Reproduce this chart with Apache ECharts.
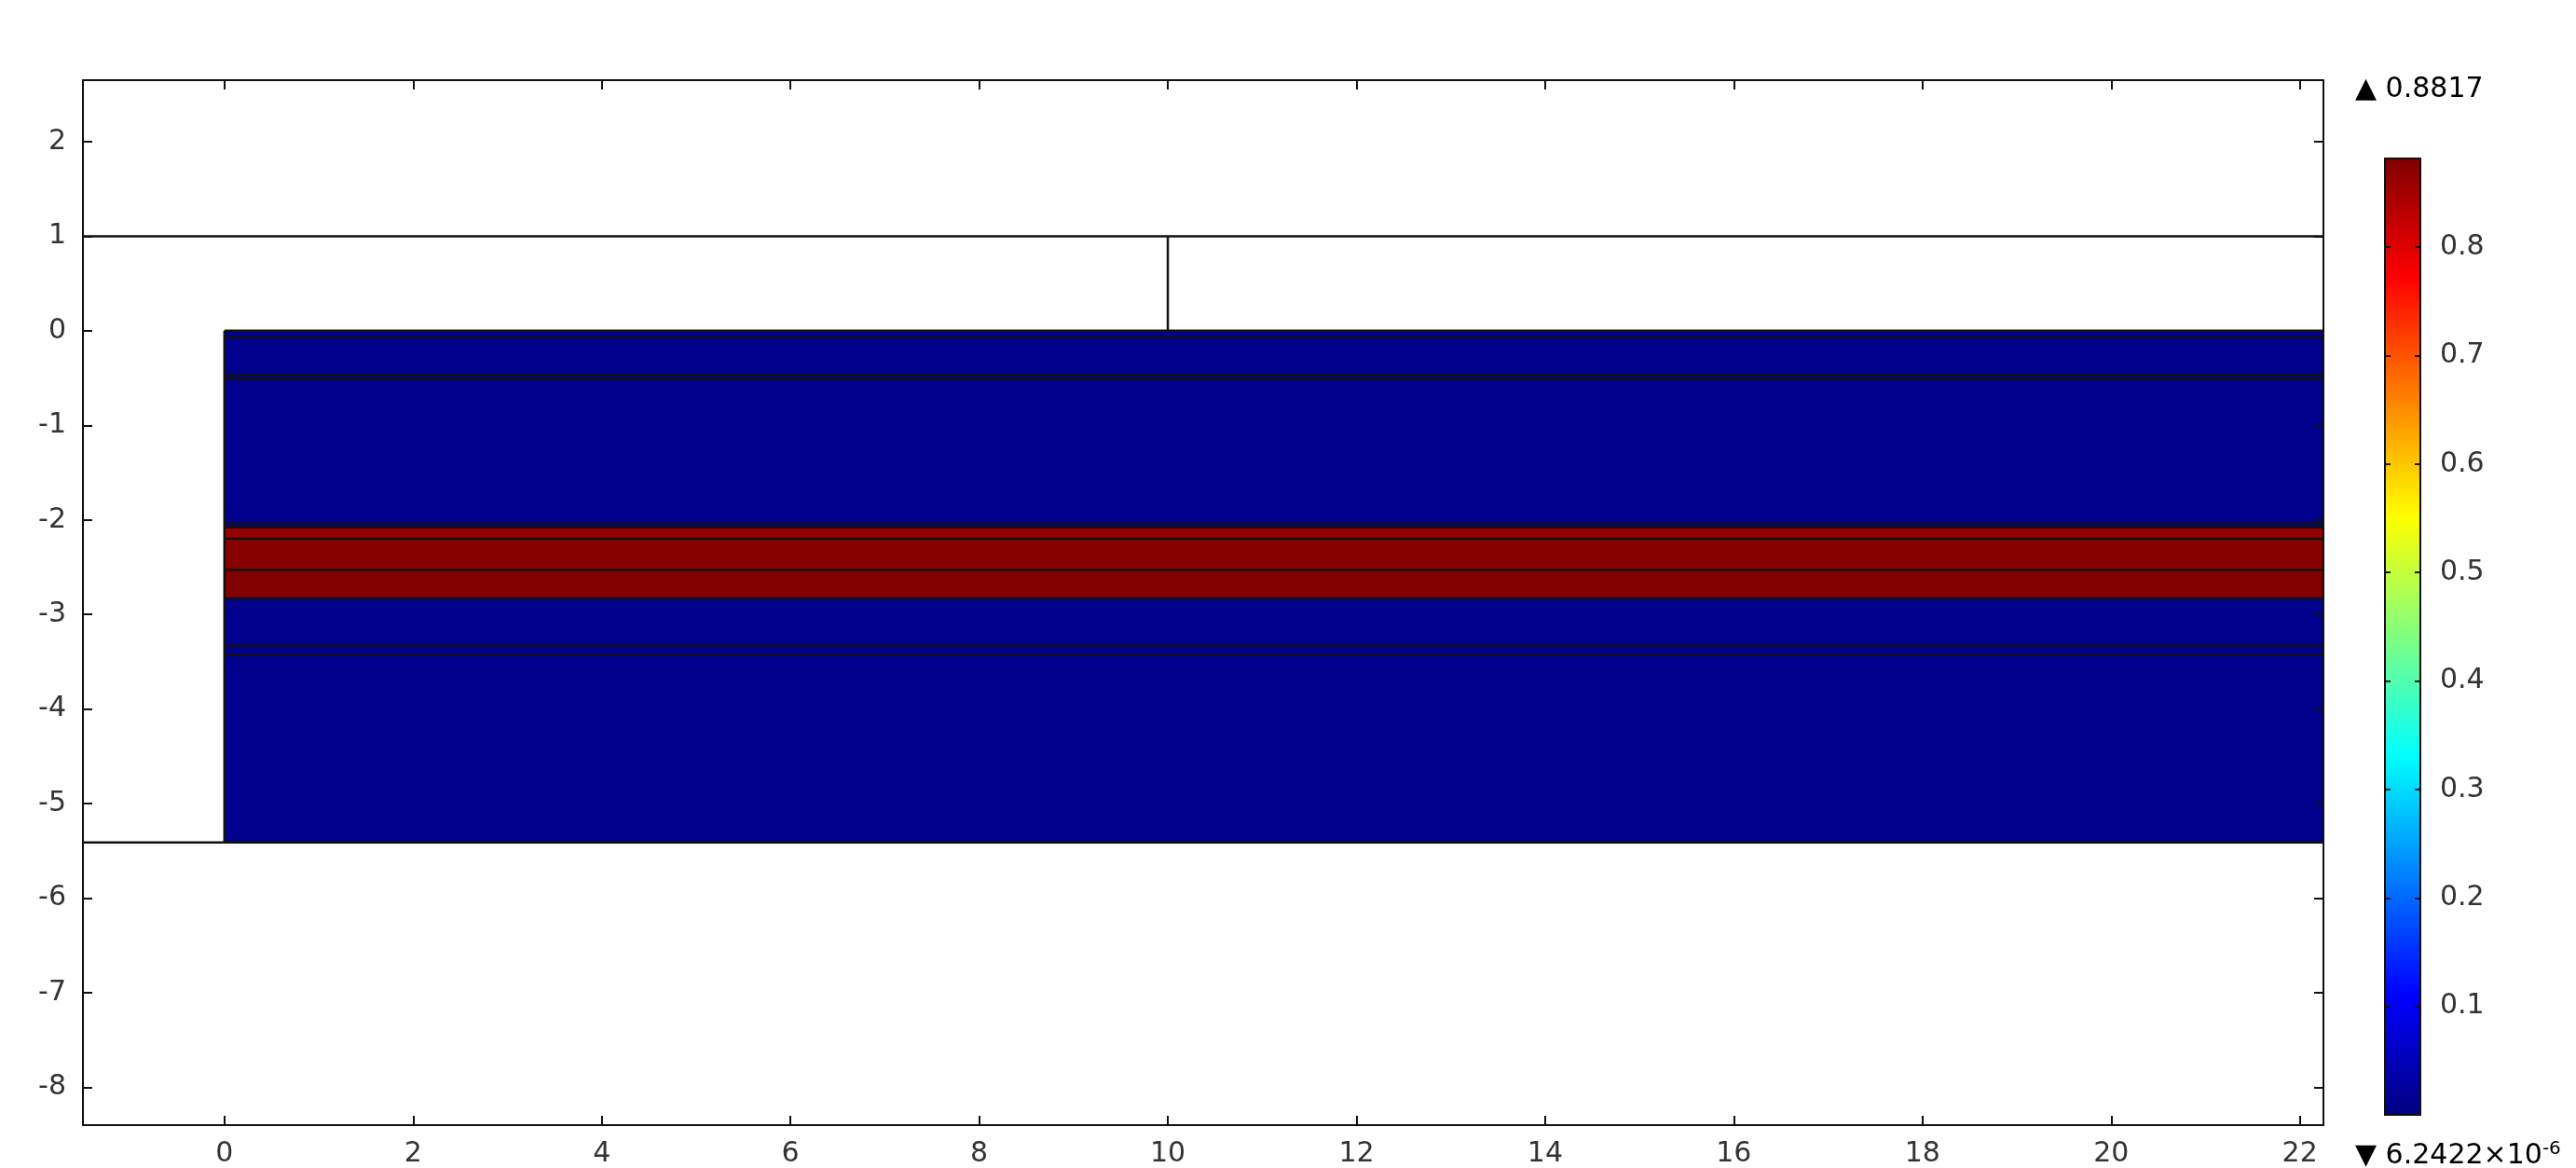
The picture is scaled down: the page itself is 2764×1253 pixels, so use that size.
<!DOCTYPE html>
<html>
<head>
<meta charset="utf-8">
<script src="https://cdn.jsdelivr.net/npm/echarts@6/dist/echarts.min.js"></script>
<style>
html,body{margin:0;padding:0;background:#fff;}
#c{width:2764px;height:1253px;}
</style>
</head>
<body>
<div id="c"></div>
<script>
// ---- data ----
const xRange = [-1.5, 22.25];
const yRange = [-8.4, 2.65];
const xTicks = [0, 2, 4, 6, 8, 10, 12, 14, 16, 18, 20, 22];
const yTicks = [-8, -7, -6, -5, -4, -3, -2, -1, 0, 1, 2];
const cbRange = [6.2422e-6, 0.8817];
const cbTicks = [0.1, 0.2, 0.3, 0.4, 0.5, 0.6, 0.7, 0.8];
const domainX = [0, 22.25];
const layerTop    = [0,     -0.07, -0.47, -0.51, -2.04, -2.08, -2.20, -2.53, -2.83, -3.33, -3.43];
const layerBottom = [-0.07, -0.47, -0.51, -2.04, -2.08, -2.20, -2.53, -2.83, -3.33, -3.43, -5.41];
const layerValue  = [0.01,  0.01,  0.01,  0.01,  0.01,  0.862, 0.874, 0.881, 0.01,  0.01,  0.01];
const edgeX1 = [-1.5, 10, -1.5, 0];
const edgeY1 = [1,    0,  -5.41, 0];
const edgeX2 = [22.25, 10, 0,   0];
const edgeY2 = [1,    1,  -5.41, -5.41];
const maxLabel = '0.8817';
const minLabelBase = '6.2422×10';
const minLabelExp = '-6';

// ---- styles ----
const jet = ['#000080', '#0000ff', '#0080ff', '#00ffff', '#80ff80', '#ffff00', '#ff8000', '#ff0000', '#800000'];
const FONT = 'DejaVu Sans';
const TXT = '#333';

const layerData = layerTop.map((t, i) => [domainX[0], t, domainX[1], layerBottom[i], layerValue[i]]);
const edgeData = edgeX1.map((x, i) => [x, edgeY1[i], edgeX2[i], edgeY2[i]]);
layerTop.forEach(t => edgeData.push([domainX[0], t, domainX[1], t]));
edgeData.push([domainX[0], layerBottom[layerBottom.length - 1], domainX[1], layerBottom[layerBottom.length - 1]]);

function mkX(pos, grid, labels, min, max, ticks) {
  return {
    type: 'value', gridIndex: grid, position: pos, min: min, max: max, z: 10,
    axisLine: {show: true, onZero: false, lineStyle: {color: '#111', width: 2}},
    axisTick: ticks ? {show: true, inside: true, length: 10, lineStyle: {color: '#111', width: 2}, customValues: ticks} : {show: false},
    axisLabel: labels ? {show: true, customValues: ticks, margin: 16, fontFamily: FONT, fontSize: 30, color: TXT} : {show: false},
    splitLine: {show: false}
  };
}
function mkY(pos, grid, labels, min, max, ticks, tlen, margin, fmt) {
  return {
    type: 'value', gridIndex: grid, position: pos, min: min, max: max, z: 10,
    axisLine: {show: true, onZero: false, lineStyle: {color: '#111', width: 2}},
    axisTick: {show: true, inside: true, length: tlen, lineStyle: {color: '#111', width: 2}, customValues: ticks},
    axisLabel: labels ? {show: true, customValues: ticks, margin: margin, fontFamily: FONT, fontSize: 30, color: TXT, formatter: fmt} : {show: false},
    splitLine: {show: false}
  };
}

const chart = echarts.init(document.getElementById('c'), null, {renderer: 'canvas'});
chart.setOption({
  backgroundColor: '#fff',
  animation: false,
  grid: [
    {left: 89, top: 86, width: 2404, height: 1121, outerBoundsMode: 'none', containLabel: false},
    {left: 2559, top: 170, width: 38, height: 1026, outerBoundsMode: 'none', containLabel: false}
  ],
  xAxis: [
    mkX('bottom', 0, true, xRange[0], xRange[1], xTicks),
    mkX('top', 0, false, xRange[0], xRange[1], xTicks),
    mkX('bottom', 1, false, 0, 1, null),
    mkX('top', 1, false, 0, 1, null)
  ],
  yAxis: [
    mkY('left', 0, true, yRange[0], yRange[1], yTicks, 10, 18, v => String(v)),
    mkY('right', 0, false, yRange[0], yRange[1], yTicks, 10, 0),
    mkY('left', 1, false, cbRange[0], cbRange[1], cbTicks, 6, 0),
    mkY('right', 1, true, cbRange[0], cbRange[1], cbTicks, 6, 21, v => v.toFixed(1))
  ],
  visualMap: [{
    type: 'continuous', show: false, seriesIndex: 0, dimension: 4,
    min: cbRange[0], max: cbRange[1], inRange: {color: jet}
  }],
  series: [
    {
      type: 'custom', xAxisIndex: 0, yAxisIndex: 0, z: 1, silent: true,
      data: layerData,
      renderItem: function (params, api) {
        const p1 = api.coord([api.value(0), api.value(1)]);
        const p2 = api.coord([api.value(2), api.value(3)]);
        return {type: 'rect', shape: {x: p1[0], y: p1[1], width: p2[0] - p1[0], height: p2[1] - p1[1]},
          style: {fill: api.visual('color')}};
      }
    },
    {
      type: 'custom', xAxisIndex: 0, yAxisIndex: 0, z: 3, silent: true,
      data: edgeData,
      renderItem: function (params, api) {
        const p1 = api.coord([api.value(0), api.value(1)]);
        const p2 = api.coord([api.value(2), api.value(3)]);
        return {type: 'line', shape: {x1: p1[0], y1: p1[1], x2: p2[0], y2: p2[1]},
          style: {stroke: '#111', lineWidth: 2.5}};
      }
    },
    {
      type: 'custom', xAxisIndex: 2, yAxisIndex: 2, z: 1, silent: true,
      data: [[0, cbRange[0], 1, cbRange[1]]],
      renderItem: function (params, api) {
        const p1 = api.coord([api.value(0), api.value(3)]);
        const p2 = api.coord([api.value(2), api.value(1)]);
        const stops = jet.map((c, i) => ({offset: i / (jet.length - 1), color: c}));
        return {type: 'rect', shape: {x: p1[0], y: p1[1], width: p2[0] - p1[0], height: p2[1] - p1[1]},
          style: {fill: new echarts.graphic.LinearGradient(0, 1, 0, 0, stops)}};
      }
    }
  ],
  graphic: [
    {type: 'text', x: 2527, y: 96, z: 20,
      style: {text: '{t|▲ }{a|' + maxLabel + '}', verticalAlign: 'middle', align: 'left',
        rich: {t: {fontFamily: FONT, fontSize: 30, color: '#000'},
               a: {fontFamily: FONT, fontSize: 30, color: TXT}}}},
    {type: 'text', x: 2527, y: 1240, z: 20,
      style: {text: '{t|▼ }{a|' + minLabelBase + '}{s|' + minLabelExp + '}', verticalAlign: 'middle', align: 'left',
        rich: {t: {fontFamily: FONT, fontSize: 30, color: '#000'},
               a: {fontFamily: FONT, fontSize: 30, color: TXT},
               s: {fontFamily: FONT, fontSize: 20, color: TXT, verticalAlign: 'top', padding: [0, 0, 14, 0]}}}}
  ]
});
</script>
</body>
</html>
